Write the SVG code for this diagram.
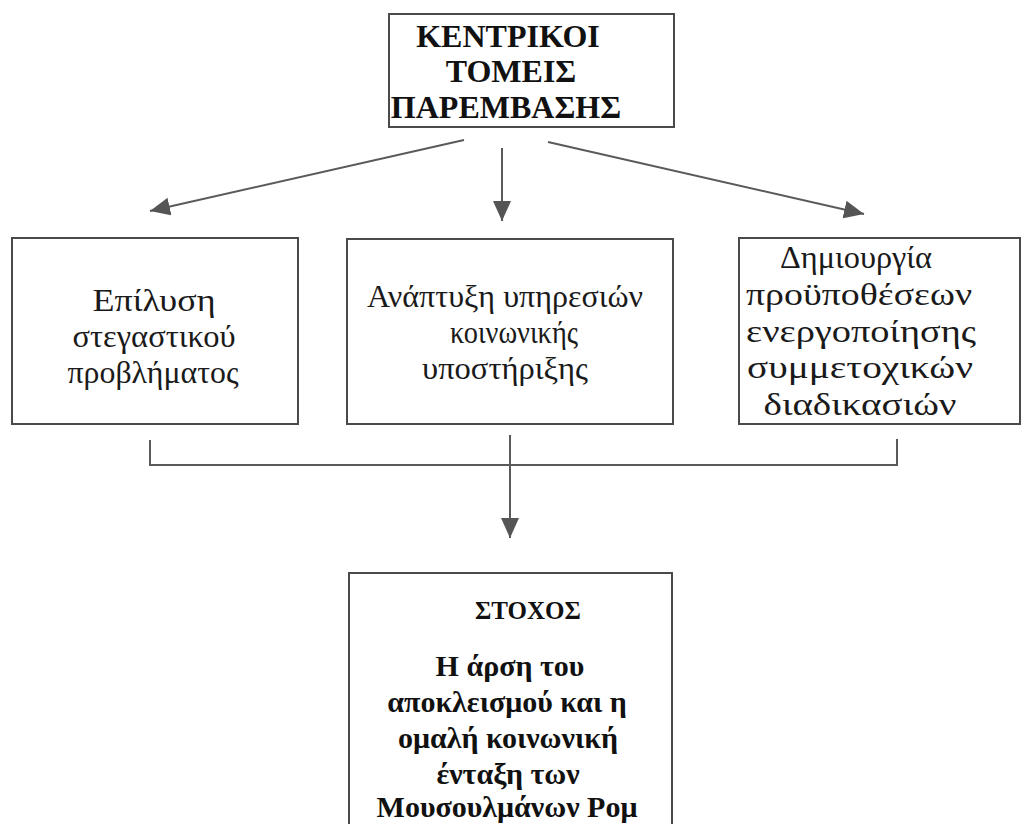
<svg xmlns="http://www.w3.org/2000/svg" width="1022" height="824" viewBox="0 0 1022 824">
<style>
.box{fill:#fff;stroke:#4a4a4a;stroke-width:2}
.t{font-family:"Liberation Serif","Times New Roman",serif;font-size:31px;fill:#1a1a1a;text-anchor:middle}
.b{font-family:"Liberation Serif","Times New Roman",serif;font-size:30px;font-weight:bold;fill:#111;text-anchor:middle}
.h{font-size:32px}
.conn{fill:none;stroke:#5a5a5a;stroke-width:2}
</style>
<defs>
<marker id="ah" viewBox="0 0 20 18" refX="20" refY="9" markerWidth="20" markerHeight="18" markerUnits="userSpaceOnUse" orient="auto">
<path d="M0,0 L20,9 L0,18 Z" fill="#555"/>
</marker>
</defs>
<rect width="1022" height="824" fill="#fff"/>
<g id="top">
<rect class="box" x="389" y="14" width="285" height="113"/>
<text class="b h" x="508" y="47">ΚΕΝΤΡΙΚΟΙ</text>
<text class="b h" x="511" y="82">ΤΟΜΕΙΣ</text>
<text class="b h" x="506" y="118">ΠΑΡΕΜΒΑΣΗΣ</text>
</g>
<g id="housing">
<rect class="box" x="12" y="238" width="286" height="186"/>
<text class="t" x="154" y="311" textLength="123" lengthAdjust="spacingAndGlyphs">Επίλυση</text>
<text class="t" x="154" y="347" textLength="163" lengthAdjust="spacingAndGlyphs">στεγαστικού</text>
<text class="t" x="153" y="383" textLength="171" lengthAdjust="spacingAndGlyphs">προβλήματος</text>
</g>
<g id="services">
<rect class="box" x="347" y="239" width="326" height="185"/>
<text class="t" x="505" y="307" textLength="276" lengthAdjust="spacingAndGlyphs">Ανάπτυξη υπηρεσιών</text>
<text class="t" x="514" y="343" textLength="128" lengthAdjust="spacingAndGlyphs">κοινωνικής</text>
<text class="t" x="505" y="379" textLength="166" lengthAdjust="spacingAndGlyphs">υποστήριξης</text>
</g>
<g id="participation">
<rect class="box" x="739" y="238" width="281" height="186"/>
<text class="t" x="856" y="268" textLength="152" lengthAdjust="spacingAndGlyphs">Δημιουργία</text>
<text class="t" x="859" y="305" textLength="226" lengthAdjust="spacingAndGlyphs">προϋποθέσεων</text>
<text class="t" x="861" y="342" textLength="230" lengthAdjust="spacingAndGlyphs">ενεργοποίησης</text>
<text class="t" x="860" y="378" textLength="226" lengthAdjust="spacingAndGlyphs">συμμετοχικών</text>
<text class="t" x="860" y="415" textLength="193" lengthAdjust="spacingAndGlyphs">διαδικασιών</text>
</g>
<g id="goal">
<rect class="box" x="349" y="573" width="323" height="270"/>
<text class="b" x="475" y="619" style="text-anchor:start;font-size:25px">ΣΤΟΧΟΣ</text>
<text class="b" x="510" y="676">Η άρση του</text>
<text class="b" x="507" y="712">αποκλεισμού και η</text>
<text class="b" x="508" y="748">ομαλή κοινωνική</text>
<text class="b" x="508" y="784">ένταξη των</text>
<text class="b" x="507" y="817">Μουσουλμάνων Ρομ</text>
</g>
<g id="connectors">
<line class="conn" x1="464" y1="140" x2="150" y2="211" marker-end="url(#ah)"/>
<line class="conn" x1="502" y1="148" x2="502" y2="221" marker-end="url(#ah)"/>
<line class="conn" x1="548" y1="142" x2="864" y2="214" marker-end="url(#ah)"/>
<path class="conn" d="M150 440 V465 H897 V439"/>
<line class="conn" x1="510" y1="435" x2="510" y2="538" marker-end="url(#ah)"/>
</g>
</svg>
